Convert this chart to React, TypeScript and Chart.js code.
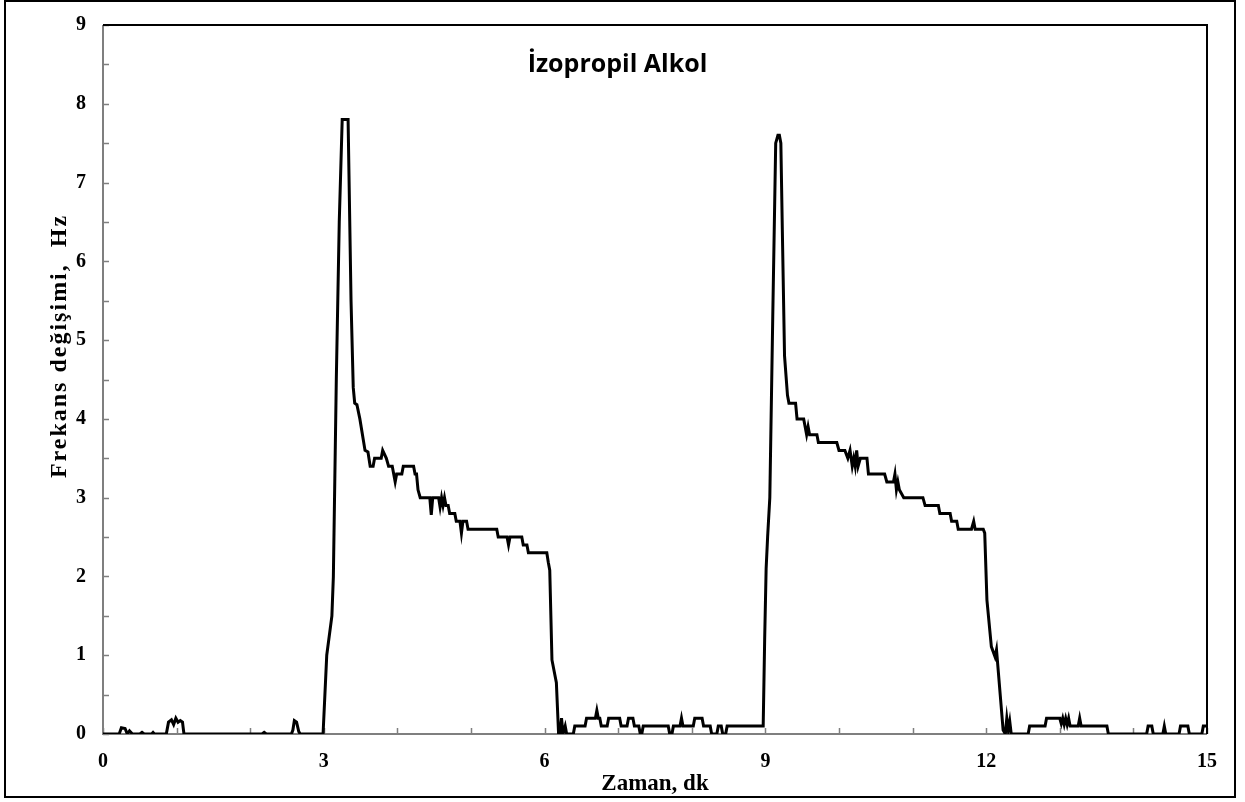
import React, { useEffect, useRef } from 'react';
import { Chart, registerables } from 'chart.js';

Chart.register(...registerables);

// Time (minutes)
const TIME: number[] = [
  0, 0.22, 0.25, 0.3, 0.33, 0.36, 0.4, 0.5, 0.53, 0.56, 0.66, 0.68, 0.7, 0.86, 0.89, 0.93, 0.96, 0.99, 1.02, 1.05, 1.08, 1.1,
  2.16, 2.19, 2.22, 2.56, 2.58, 2.6, 2.63, 2.66, 2.68, 2.99,
  3.04, 3.11, 3.13, 3.17, 3.21, 3.25, 3.33, 3.37, 3.4, 3.42, 3.45, 3.49, 3.56, 3.6, 3.63, 3.67, 3.69, 3.78, 3.8, 3.85, 3.88,
  3.93, 3.97, 3.99, 4.06, 4.08, 4.22, 4.24, 4.26, 4.28, 4.31, 4.44, 4.46, 4.48, 4.56, 4.58, 4.6, 4.62, 4.64, 4.66, 4.69,
  4.71, 4.78, 4.8, 4.85, 4.87, 4.89, 4.94, 4.96, 5.35, 5.37, 5.49, 5.51, 5.53, 5.69, 5.71, 5.76, 5.78, 6.03, 6.05, 6.07,
  6.1, 6.16, 6.19,
  6.21, 6.23, 6.25, 6.28, 6.3, 6.39, 6.41, 6.55, 6.57, 6.69, 6.71, 6.73, 6.75, 6.77, 6.85, 6.87, 7.02, 7.04, 7.12, 7.14,
  7.2, 7.22, 7.28, 7.3, 7.32, 7.34, 7.68, 7.7, 7.73, 7.75, 7.84, 7.86, 7.88, 8.02, 8.04, 8.14, 8.16, 8.25, 8.27, 8.34,
  8.36, 8.4, 8.42, 8.46, 8.48, 8.95, 8.97,
  8.99, 9.01, 9.03, 9.06, 9.1, 9.14, 9.17, 9.19, 9.21, 9.23, 9.26, 9.3, 9.32, 9.41, 9.43, 9.52, 9.54, 9.56, 9.58, 9.6,
  9.7, 9.72, 9.97, 10.0, 10.08, 10.12, 10.15, 10.18, 10.2, 10.22, 10.24, 10.26, 10.29, 10.38, 10.4, 10.62, 10.65, 10.74,
  10.76, 10.78, 10.8, 10.82, 10.88, 11.14, 11.17, 11.35, 11.37, 11.51, 11.53, 11.6, 11.62, 11.8, 11.83, 11.85, 11.96,
  11.98, 12.01, 12.07, 12.12, 12.14, 12.23, 12.26,
  12.28, 12.3, 12.32, 12.34, 12.57, 12.59, 12.8, 12.82, 13.0, 13.02, 13.04, 13.06, 13.08, 13.1, 13.12, 13.14, 13.25,
  13.27, 13.29, 13.64, 13.66, 14.18, 14.2, 14.25, 14.27, 14.4, 14.42, 14.44, 14.62, 14.64, 14.74, 14.76, 14.93, 14.95, 15,
];

// Frequency change (Hz)
const FREQ: number[] = [
  0, 0, 0.08, 0.07, 0, 0.04, 0, 0, 0.02, 0, 0, 0.02, 0, 0, 0.15, 0.18, 0.12, 0.2, 0.15, 0.17, 0.15, 0,
  0, 0.02, 0, 0, 0.05, 0.17, 0.15, 0.03, 0, 0,
  1.0, 1.5, 2.0, 4.5, 6.5, 7.8, 7.8, 5.5, 4.4, 4.2, 4.18, 4.0, 3.6, 3.58, 3.4, 3.4, 3.5, 3.5, 3.6, 3.5, 3.4,
  3.4, 3.2, 3.3, 3.3, 3.4, 3.4, 3.3, 3.3, 3.1, 3.0, 3.0, 2.78, 3.0, 3.0, 2.88, 3.0, 2.9, 3.0, 2.9, 2.9,
  2.8, 2.8, 2.7, 2.7, 2.55, 2.7, 2.7, 2.6, 2.6, 2.5, 2.5, 2.4, 2.5, 2.5, 2.4, 2.4, 2.3, 2.3, 2.18, 2.08,
  0.94, 0.65, 0,
  0, 0.2, 0, 0.1, 0, 0, 0.1, 0.1, 0.2, 0.2, 0.3, 0.2, 0.2, 0.1, 0.1, 0.2, 0.2, 0.1, 0.1, 0.2,
  0.2, 0.1, 0.1, 0, 0, 0.1, 0.1, 0, 0, 0.1, 0.1, 0.2, 0.1, 0.1, 0.2, 0.2, 0.1, 0.1, 0, 0,
  0.1, 0.1, 0, 0, 0.1, 0.1, 0.1,
  1.2, 2.1, 2.5, 3.0, 5.3, 7.5, 7.6, 7.6, 7.5, 6.4, 4.8, 4.3, 4.2, 4.2, 4.0, 4.0, 3.9, 3.8, 3.9, 3.8,
  3.8, 3.7, 3.7, 3.6, 3.6, 3.5, 3.6, 3.4, 3.5, 3.4, 3.6, 3.4, 3.5, 3.5, 3.3, 3.3, 3.2, 3.2,
  3.3, 3.1, 3.2, 3.1, 3.0, 3.0, 2.9, 2.9, 2.8, 2.8, 2.7, 2.7, 2.6, 2.6, 2.7, 2.6, 2.6,
  2.55, 1.7, 1.11, 0.98, 1.07, 0.05, 0,
  0.2, 0.05, 0.16, 0, 0, 0.1, 0.1, 0.2, 0.2, 0.13, 0.2, 0.12, 0.2, 0.12, 0.2, 0.1, 0.1,
  0.2, 0.1, 0.1, 0, 0, 0.1, 0.1, 0, 0, 0.1, 0, 0, 0.1, 0.1, 0, 0, 0.1, 0.1,
];

const X_LABELED_TICKS: number[] = [0, 3, 6, 9, 12, 15];
const Y_LABELED_TICKS: number[] = [0, 1, 2, 3, 4, 5, 6, 7, 8, 9];

const CHART_TITLE = 'İzopropil Alkol';
const X_TITLE = 'Zaman, dk';
const Y_TITLE = 'Frekans değişimi,  Hz';

const SERIF = '"Liberation Serif", "Times New Roman", serif';

const framePlugin = {
  id: 'frame',
  beforeDatasetsDraw(chart: any) {
    const { ctx, chartArea: a, scales } = chart;
    const xs = scales.x;
    const ys = scales.y;
    ctx.save();
    ctx.lineCap = 'butt';
    ctx.strokeStyle = '#7f7f7f';
    ctx.lineWidth = 1.5;
    ctx.beginPath();
    xs.ticks.forEach((t: any) => {
      const px = Math.round(xs.getPixelForValue(t.value)) + 0.5;
      ctx.moveTo(px, a.bottom);
      ctx.lineTo(px, a.bottom - 6);
    });
    ys.ticks.forEach((t: any) => {
      const py = Math.round(ys.getPixelForValue(t.value)) + 0.5;
      ctx.moveTo(a.left, py);
      ctx.lineTo(a.left + 6, py);
    });
    ctx.stroke();
    ctx.lineWidth = 2;
    ctx.strokeStyle = '#7f7f7f';
    ctx.beginPath();
    ctx.moveTo(a.left, a.top);
    ctx.lineTo(a.left, a.bottom);
    ctx.lineTo(a.right, a.bottom);
    ctx.stroke();
    ctx.strokeStyle = '#000';
    ctx.beginPath();
    ctx.moveTo(a.left, a.top);
    ctx.lineTo(a.right, a.top);
    ctx.lineTo(a.right, a.bottom);
    ctx.stroke();
    ctx.restore();
  },
  afterDraw(chart: any) {
    const { ctx, chartArea: a } = chart;
    ctx.save();
    ctx.fillStyle = '#000';
    ctx.font = 'bold 25px "Open Sans", sans-serif';
    ctx.textAlign = 'center';
    ctx.textBaseline = 'alphabetic';
    ctx.fillText(CHART_TITLE, a.left + (a.right - a.left) * 0.466, 72);
    ctx.font = `bold 23px ${SERIF}`;
    ctx.textBaseline = 'middle';
    ctx.fillText(X_TITLE, (a.left + a.right) / 2, 784);
    ctx.translate(60, 346);
    ctx.rotate(-Math.PI / 2);
    ctx.font = `bold 24px ${SERIF}`;
    (ctx as any).letterSpacing = '2px';
    ctx.fillText(Y_TITLE, 0, 0);
    ctx.restore();
    ctx.save();
    ctx.strokeStyle = '#000';
    ctx.lineWidth = 2;
    ctx.strokeRect(5, 1, 1230, 796);
    ctx.restore();
  },
};

export default function App() {
  const ref = useRef<HTMLCanvasElement | null>(null);

  useEffect(() => {
    if (!ref.current) return;
    const points = TIME.map((t, i) => ({ x: t, y: FREQ[i] }));
    const chart = new Chart(ref.current, {
      type: 'line',
      data: {
        datasets: [
          {
            data: points,
            borderColor: '#000',
            borderWidth: 3,
            pointRadius: 0,
            tension: 0,
            fill: false,
          },
        ],
      },
      options: {
        responsive: false,
        animation: false,
        layout: { padding: { left: 0, top: 25, right: 38, bottom: 0 } },
        plugins: {
          legend: { display: false },
          tooltip: { enabled: false },
          title: { display: false },
        },
        scales: {
          x: {
            type: 'linear',
            min: 0,
            max: 15,
            grid: { display: false },
            border: { display: false },
            afterFit: (s: any) => {
              s.height = 68;
            },
            ticks: {
              stepSize: 1,
              autoSkip: false,
              maxRotation: 0,
              padding: 8,
              color: '#000',
              font: { family: SERIF, size: 20, weight: 'bold' },
              callback: (v: any) => (X_LABELED_TICKS.includes(Number(v)) ? String(v) : ''),
            },
          },
          y: {
            type: 'linear',
            min: 0,
            max: 9,
            grid: { display: false },
            border: { display: false },
            afterFit: (s: any) => {
              s.width = 103;
            },
            ticks: {
              stepSize: 0.5,
              autoSkip: false,
              padding: 9,
              color: '#000',
              font: { family: SERIF, size: 20, weight: 'bold' },
              callback: (v: any) => (Y_LABELED_TICKS.includes(Number(v)) ? String(v) : ''),
            },
          },
        },
      },
      plugins: [framePlugin],
    });
    return () => chart.destroy();
  }, []);

  return (
    <div style={{ position: 'absolute', left: 0, top: 0, width: 1245, height: 802, background: '#fff' }}>
      <canvas ref={ref} width={1245} height={802} style={{ display: 'block' }} />
    </div>
  );
}
